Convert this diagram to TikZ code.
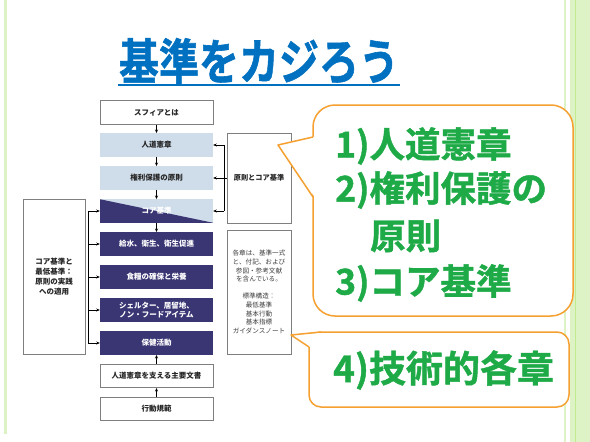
\documentclass[tikz,border=0pt]{standalone}
\usepackage{fontspec}
\setmainfont{Noto Sans CJK JP}
\newfontfamily\heavy[FakeBold=1.2]{Noto Sans CJK JP Bold}
\usetikzlibrary{arrows.meta}
\definecolor{lblue}{HTML}{CFDCEA}
\definecolor{navy}{HTML}{3A3674}
\definecolor{bgray}{HTML}{7F7F7F}
\definecolor{orng}{HTML}{F5A030}
\definecolor{grn}{HTML}{1FAA48}
\definecolor{ttl}{HTML}{0070C0}
\definecolor{lgreen}{HTML}{DDF3C6}
\definecolor{lgreen2}{HTML}{C2EA8E}
\begin{document}
\begin{tikzpicture}[x=1pt,y=-1pt,
 box/.style={minimum width=113pt, minimum height=23.5pt, inner sep=1pt, font=\fontsize{7.5}{9}\selectfont\bfseries, align=center, anchor=center},
 wbox/.style={box, draw=bgray, line width=0.6pt, fill=white, text=black!85},
 bbox/.style={box, fill=lblue, text=black!85},
 nbox/.style={box, fill=navy, text=white},
 sidebox/.style={draw=bgray, line width=0.6pt, fill=white, inner sep=1pt, align=center, text=black!85},
 arr/.style={-{Stealth[length=3.5pt,width=3pt]}, line width=0.6pt, black},
 co/.style={draw=orng, line width=1.5pt, fill=white},
 big/.style={text=grn, font=\fontsize{35.5}{40}\selectfont\heavy, anchor=west, inner sep=0pt},
]
\useasboundingbox (0,0) rectangle (590,442);
\fill[white] (0,0) rectangle (590,442);
% side decorations
\fill[lgreen] (3.5,0) rectangle (6.5,434);
\fill[lgreen] (563.5,0) rectangle (566,442);
\fill[lgreen] (570,0) rectangle (590,442);
\fill[lgreen2] (574.5,0) rectangle (575.8,442);

% title
\node[font=\fontsize{40}{44}\selectfont\heavy, text=ttl, inner sep=0pt] (title) at (259,61) {\scalebox{1.0}[1.22]{基準をカジろう}};
\draw[ttl, line width=1.5pt] (118,85) -- (400,85);

% main column
\node[wbox] (sph) at (156.5,112.5) {スフィアとは};
\node[bbox] (hc) at (156.5,145) {人道憲章};
\node[bbox] (pp) at (156.5,178) {権利保護の原則};
\node[bbox, path picture={\fill[navy] (path picture bounding box.north west) -- (path picture bounding box.south west) -- (path picture bounding box.south east) -- cycle;}, text=white] (cs) at (156.5,211) {コア基準};
\node[nbox] (ws) at (156.5,244) {給水、衛生、衛生促進};
\node[nbox] (fs) at (156.5,277) {食糧の確保と栄養};
\node[nbox] (sh) at (156.5,310) {シェルター、居留地、\\ノン・フードアイテム};
\node[nbox] (ha) at (156.5,343) {保健活動};
\node[wbox] (kd) at (156.5,376) {人道憲章を支える主要文書};
\node[wbox] (cc) at (156.5,409) {行動規範};

\draw[arr] (sph) -- (hc);
\draw[arr] (hc) -- (pp);
\draw[arr] (pp) -- (cs);
\draw[arr] (cs) -- (ws);
\draw[arr] (kd) -- (ha);
\draw[arr] (cc) -- (kd);

% left box and bracket
\node[sidebox, minimum width=62pt, minimum height=155pt, font=\fontsize{7.5}{10}\selectfont\bfseries] (lbox) at (54,276.5) {コア基準と\\最低基準：\\原則の実践\\への適用};
\coordinate (lb) at (88,211);
\draw[line width=0.6pt] (lb |- cs.west) -- (lb |- ha.west);
\foreach \n in {cs,ws,fs,sh,ha} {\draw[arr] (lb |- \n.west) -- (\n.west);}

% right boxes and bracket
\node[sidebox, minimum width=64pt, minimum height=90pt, font=\fontsize{7.2}{9}\selectfont\bfseries] (r1) at (259,178) {原則とコア基準};
\node[sidebox, minimum width=64pt, minimum height=124pt, font=\fontsize{6.6}{8.6}\selectfont, text=black!75] (r2) at (259,292) {各章は、基準一式\\と、付記、および\\参図・参考文献\\を含んでいる。\\[8.6pt]標準構造：\\最低基準\\基本行動\\基本指標\\ガイダンスノート};
\coordinate (rb) at (224,145);
\draw[line width=0.6pt] (rb |- hc.east) -- (rb |- cs.east);
\draw[arr] (rb |- hc.east) -- (hc.east);
\draw[arr] (r1.west) -- (pp.east);
\draw[arr] (rb |- cs.east) -- (cs.east);

% callout 1
\draw[co, rounded corners=22pt] (313,105) rectangle (573,316);
\fill[white] (278,145) -- (315,136.5) -- (315,197.5) -- cycle;
\draw[orng, line width=1.5pt, line join=round] (313,137) -- (278,145) -- (313,197);
\node[big] (t1) at (335,146) {1)人道憲章};
\node[big] (t2) at (335,190) {2)権利保護の};
\node[big] (t2b) at (370,236) {原則};
\node[big] (t3) at (335,283) {3)コア基準};

% callout 2
\draw[co, rounded corners=12pt] (309,332) rectangle (569,407);
\fill[white] (291,335) -- (321,332.8) -- (321,347) -- (309.8,347) -- cycle;
\draw[orng, line width=1.5pt, line join=round] (321,332) -- (291,335) -- (309,347);
\node[big, font=\fontsize{37}{40}\selectfont\heavy] (t4) at (333,370) {4)技術的各章};
\end{tikzpicture}
\end{document}
